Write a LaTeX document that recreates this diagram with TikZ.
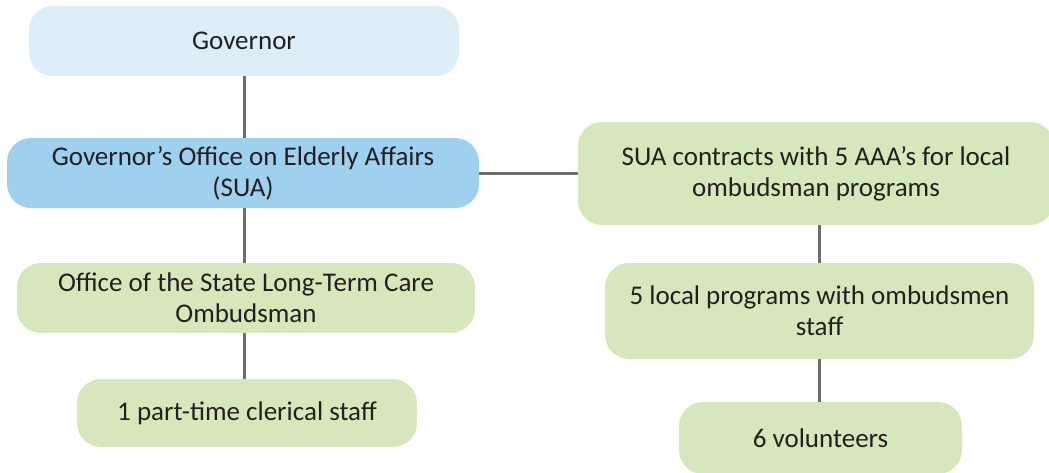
\documentclass[tikz,border=0pt]{standalone}
\usepackage{fontspec}
\setmainfont{Carlito}
\definecolor{govfill}{HTML}{DDEEF9}
\definecolor{suafill}{HTML}{9DD1EE}
\definecolor{grfill}{HTML}{D6E8BB}
\definecolor{lineg}{HTML}{6D6E71}
\definecolor{txt}{HTML}{231F20}
\tikzset{
  box/.style={rectangle, rounded corners=24pt, inner sep=0pt, align=center,
    text=txt, font=\fontsize{27}{31}\selectfont},
  conn/.style={draw=lineg, line width=3pt}
}
\begin{document}
\begin{tikzpicture}[x=1pt,y=-1pt]
\useasboundingbox (0,0) rectangle (1049,472);
\clip (0,0) rectangle (1049,472);
\coordinate (lx) at (244,0);
\coordinate (rx) at (819,0);
\node[box, fill=govfill, minimum width=430pt, minimum height=70pt] (gov) at (244,41) {Governor};
\node[box, fill=suafill, minimum width=472pt, minimum height=70pt] (sua) at (243,173) {Governor’s Office on Elderly Affairs\\(SUA)};
\node[box, fill=grfill, minimum width=458pt, minimum height=70pt] (ltc) at (246,298) {Office of the State Long-Term Care\\Ombudsman};
\node[box, fill=grfill, minimum width=340pt, minimum height=68pt] (pt) at (247,413) {1 part-time clerical staff};
\node[box, fill=grfill, minimum width=476pt, minimum height=103pt] (con) at (816,173.5) {SUA contracts with 5 AAA’s for local\\ombudsman programs};
\node[box, fill=grfill, minimum width=429pt, minimum height=96pt] (loc) at (819.5,311) {5 local programs with ombudsmen\\staff};
\node[box, fill=grfill, minimum width=283pt, minimum height=72pt] (vol) at (820.5,438) {6 volunteers};
\draw[conn] (gov.south -| lx) -- (sua.north -| lx);
\draw[conn] (sua.south -| lx) -- (ltc.north -| lx);
\draw[conn] (ltc.south -| lx) -- (pt.north -| lx);
\draw[conn] (sua.east) -- (sua.east -| con.west);
\draw[conn] (con.south -| rx) -- (loc.north -| rx);
\draw[conn] (loc.south -| rx) -- (vol.north -| rx);
\end{tikzpicture}
\end{document}
